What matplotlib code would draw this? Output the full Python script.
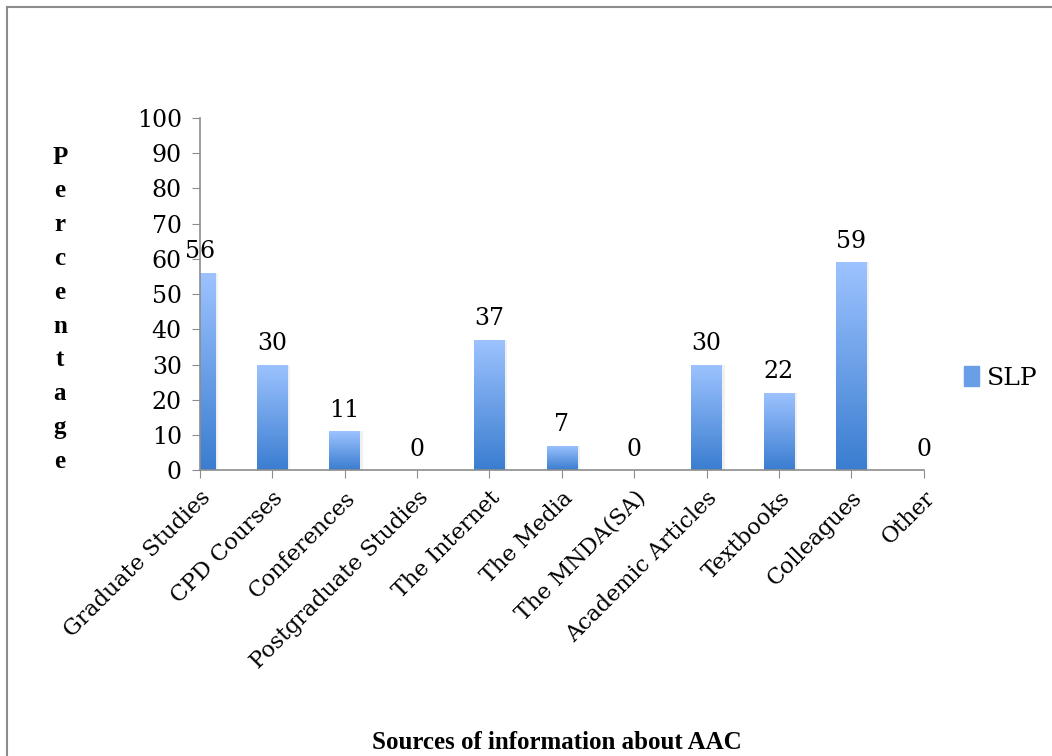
import matplotlib

matplotlib.use("Agg")
import matplotlib.pyplot as plt
import numpy as np
from matplotlib.colors import LinearSegmentedColormap
from matplotlib.lines import Line2D
from matplotlib.patches import Rectangle

categories = ["Graduate Studies", "CPD Courses", "Conferences", "Postgraduate Studies",
              "The Internet", "The Media", "The MNDA(SA)", "Academic Articles",
              "Textbooks", "Colleagues", "Other"]
slp = [56, 30, 11, 0, 37, 7, 0, 30, 22, 59, 0]
yticks = [0, 10, 20, 30, 40, 50, 60, 70, 80, 90, 100]

plt.rcParams["font.family"] = ["DejaVu Serif"]
GREY = "#8c8c8c"
grad = LinearSegmentedColormap.from_list("slp", ["#3a7dd0", "#9dc3ff"])

fig = plt.figure(figsize=(10.52, 7.56), dpi=100)
ax = fig.add_axes([0.190, 0.378, 0.688, 0.466])

x = np.arange(len(categories))
ax.set_xlim(0, len(categories) - 1)
ax.set_ylim(0, 100)
bars = ax.bar(x, slp, width=0.42, color="none", edgecolor="none", zorder=3)
ax.bar(x + 0.04, slp, width=0.42, color="#000000", alpha=0.06, zorder=2)
g = np.linspace(0, 1, 256).reshape(-1, 1)
x_lo, x_hi = ax.get_xlim()
for b in bars:
    if b.get_height() <= 0:
        continue
    left = max(b.get_x(), x_lo)
    right = min(b.get_x() + b.get_width(), x_hi)
    im = ax.imshow(g, cmap=grad, origin="lower", aspect="auto", zorder=3,
                   extent=[left, right, 0, b.get_height()])
    im.set_clip_path(b)
ax.set_xlim(x_lo, x_hi)
ax.set_ylim(0, 100)

for xi, v in zip(x, slp):
    ax.annotate(str(v), (xi, v), textcoords="offset points", xytext=(0, 7),
                ha="center", va="bottom", fontsize=17)

ax.set_yticks(yticks)
ax.set_xticks(x)
ax.set_xticklabels(categories, rotation=45, ha="right", rotation_mode="anchor", fontsize=16)
ax.tick_params(axis="y", labelsize=17, length=6, color=GREY, pad=7)
ax.tick_params(axis="x", length=6, color=GREY, pad=6)
for s in ("top", "right"):
    ax.spines[s].set_visible(False)
for s in ("left", "bottom"):
    ax.spines[s].set_color(GREY)
    ax.spines[s].set_linewidth(1.2)
    ax.spines[s].set_zorder(4)

# stacked vertical axis title
fig.text(0.057, 0.591, "\n".join("Percentage"), ha="center", va="center",
         fontsize=18, fontweight="bold", linespacing=1.6, family="Liberation Serif")
fig.text(0.529, 0.0185, "Sources of information about AAC", ha="center", va="center",
         fontsize=18, fontweight="bold", family="Liberation Serif")

# legend sits at the vertical middle of the whole figure
ax.legend([Rectangle((0, 0), 1, 1, color="#6a9fe8")], ["SLP"],
          loc="center left", bbox_to_anchor=(1.02, 0.5), bbox_transform=fig.transFigure,
          frameon=False, fontsize=18, handlelength=0.6, handleheight=0.8, handletextpad=0.3)
ax.get_legend().set_bbox_to_anchor((0.895, 0.5), transform=fig.transFigure)

# outer chart frame
fig.add_artist(Line2D([0.0067, 1.0], [0.9907, 0.9907], color=GREY, lw=1.5))
fig.add_artist(Line2D([0.0067, 0.0067], [0.0, 0.9907], color=GREY, lw=1.5))

fig.savefig("out.png", dpi=100)
